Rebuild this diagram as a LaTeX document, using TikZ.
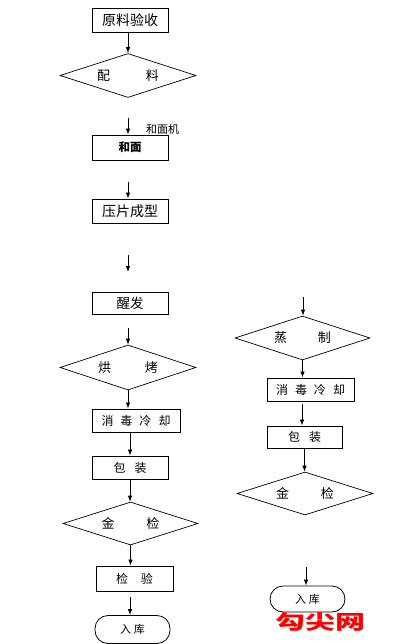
\documentclass[tikz,border=0pt]{standalone}
\usepackage{fontspec}
\setmainfont{Noto Sans CJK SC}
\usetikzlibrary{shapes, arrows.meta, positioning}

\begin{document}
\begin{tikzpicture}[
            x=1pt, y=-1pt, >={Latex[length=6pt, width=4.5pt]},
            stepbox/.style={rectangle, draw, line width=0.9pt, inner sep=0pt, minimum width=76pt, minimum height=24pt, font=\fontsize{13}{13}\selectfont},
            judge/.style={diamond, draw, line width=0.7pt, inner sep=0pt, aspect=3, minimum width=136pt, minimum height=44pt, font=\fontsize{13}{13}\selectfont},
            terminal/.style={rectangle, draw, line width=0.8pt, rounded corners=13pt, inner sep=0pt, minimum width=75pt, minimum height=27pt, font=\fontsize{11}{11}\selectfont},
            flow/.style={->, line width=0.8pt}
        ]
        \useasboundingbox (0,0) rectangle (413,644);

        % Left line
        \node[stepbox, font=\fontsize{14}{14}\selectfont] (yanshou) at (130,20) {原料验收};
        \node[judge] (peiliao) at (128,75.5) {配\hspace{36pt}料};
        \node[stepbox, minimum height=25pt, font=\fontsize{11.5}{11.5}\selectfont\bfseries] (hemian) at (130,147.5) {和面};
        \node[stepbox, font=\fontsize{14}{14}\selectfont] (yapian) at (130,211) {压片成型};
        \node[stepbox, minimum height=22pt, font=\fontsize{13.5}{13.5}\selectfont] (xingfa) at (130,303) {醒发};
        \node[judge, minimum height=45pt] (hongkao) at (128,367.5) {烘\hspace{34pt}烤};
        \node[stepbox, minimum width=88pt, minimum height=23pt, font=\fontsize{12}{12}\selectfont] (xiaodu) at (136,420.5) {消\hspace{7pt}毒\hspace{7pt}冷\hspace{7pt}却};
        \node[stepbox, minimum height=23pt, font=\fontsize{12}{12}\selectfont] (baozhuang) at (130,467.5) {包\hspace{9pt}装};
        \node[judge, minimum width=135pt, minimum height=43pt] (jinjian) at (130.5,523.5) {金\hspace{32pt}检};
        \node[stepbox, minimum width=77pt, minimum height=25pt, font=\fontsize{12}{12}\selectfont] (jianyan) at (134.5,578.5) {检\hspace{13pt}验};
        \node[terminal, minimum height=28pt] (ruku) at (132.5,629.5) {入\hspace{3pt}库};

        % Right line
        \node[judge, minimum width=135pt] (zhengzhi) at (302.5,338) {蒸\hspace{31pt}制};
        \node[stepbox, minimum width=87pt, minimum height=23pt, font=\fontsize{12}{12}\selectfont] (xiaodutwo) at (310.5,389.5) {消\hspace{7pt}毒\hspace{7pt}冷\hspace{7pt}却};
        \node[stepbox, minimum width=75pt, minimum height=22pt, font=\fontsize{12}{12}\selectfont] (baozhuangtwo) at (304.5,437) {包\hspace{9pt}装};
        \node[judge, minimum height=43pt] (jinjiantwo) at (305,493.5) {金\hspace{32pt}检};
        \node[terminal, minimum height=26pt] (rukutwo) at (307.5,599) {入\hspace{3pt}库};

        % Free arrow ends
        \coordinate (s1) at (128,118);
        \coordinate (s2) at (128,182);
        \coordinate (s3) at (128,255);
        \coordinate (e3) at (128,272);
        \coordinate (s4) at (128,328);
        \coordinate (s5) at (303,297);
        \coordinate (s6) at (306,567);
        \coordinate (s7) at (130,597);
        \coordinate (s8) at (302,404);

        % Connections
        \draw[flow] (yanshou.south -| peiliao) -- (peiliao.north);
        \draw[flow] (s1) -- (s1 |- hemian.north);
        \draw[flow] (s2) -- (s2 |- yapian.north);
        \draw[flow] (s3) -- (e3);
        \draw[flow] (s4) -- (hongkao.north);
        \draw[flow] (hongkao.south) -- (hongkao.south |- xiaodu.north);
        \draw[flow] (baozhuang.north |- xiaodu.south) -- (baozhuang.north);
        \draw[flow] (baozhuang.south) -- (baozhuang.south |- jinjian.north);
        \draw[flow] (jinjian.south) -- (jinjian.south |- jianyan.north);
        \draw[flow] (s7) -- (s7 |- ruku.north);
        \draw[flow] (s5) -- (s5 |- zhengzhi.north);
        \draw[flow] (zhengzhi.south) -- (zhengzhi.south |- xiaodutwo.north);
        \draw[flow] (s8) -- (s8 |- baozhuangtwo.north);
        \draw[flow] (baozhuangtwo.south) -- (baozhuangtwo.south |- jinjiantwo.north);
        \draw[flow] (s6) -- (s6 |- rukutwo.north);

        % Labels
        \node[anchor=west, inner sep=0pt, font=\fontsize{11}{11}\selectfont] (hemianji) at (146,129) {和面机};
        \node[inner sep=0pt, text=red, font=\fontsize{20}{20}\selectfont\bfseries] (mark) at (320,622) {\scalebox{1.5}[1]{勾尖网}};

    \end{tikzpicture}
\end{document}
